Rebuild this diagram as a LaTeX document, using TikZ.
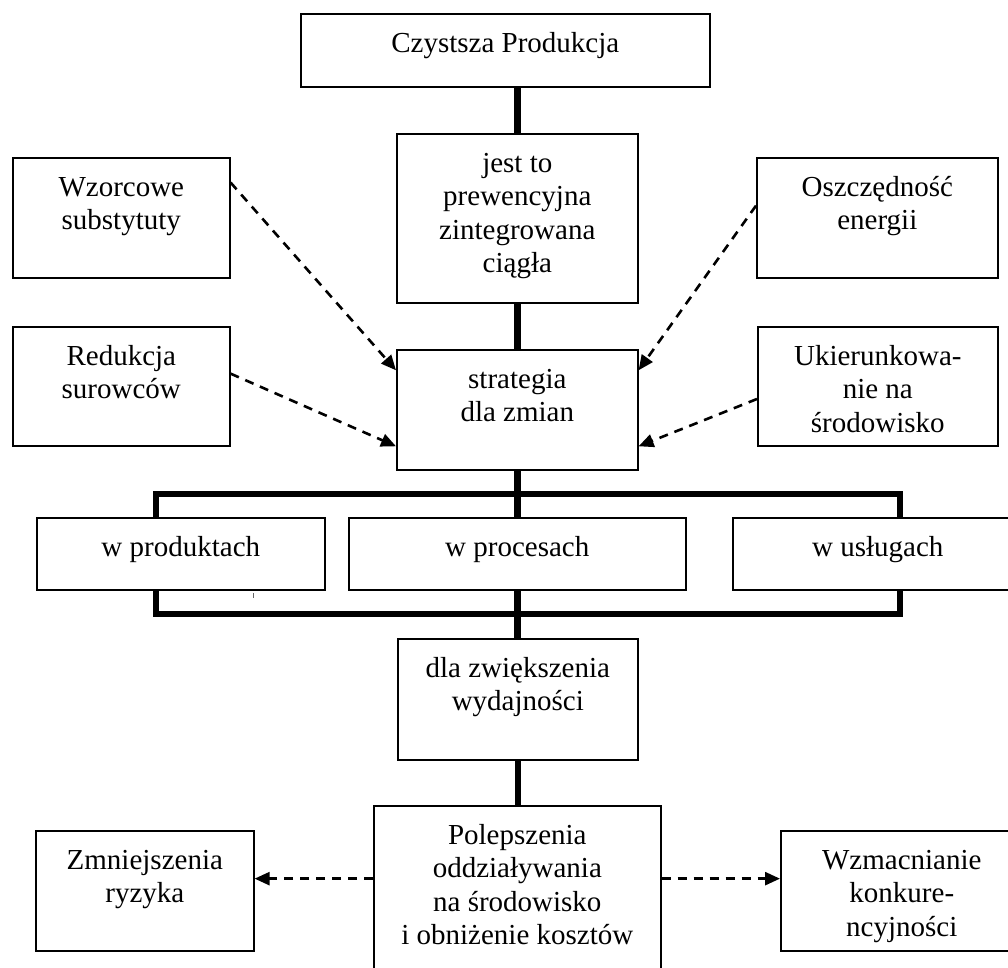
\documentclass[tikz,border=0pt]{standalone}
\usepackage{fontspec}
\setmainfont{Liberation Serif}
\usetikzlibrary{arrows.meta,calc,backgrounds}
\newcommand{\bxt}[3]{\parbox[t][#2][t]{#1}{\centering\rule{0pt}{38.5pt}#3}}
\begin{document}
\begin{tikzpicture}[x=1pt,y=-1pt,
  bx/.style={draw, line width=1.6pt, fill=white, inner sep=0pt, anchor=north west,
             font=\fontsize{29pt}{33.5pt}\selectfont},
  thk/.style={line width=6.5pt, line join=miter, line cap=butt},
  da/.style={line width=2.6pt, dash pattern=on 9pt off 7pt,
             -{Triangle[length=15pt,width=13pt]}}]
\useasboundingbox (0,0) rectangle (1008,967);
\node[bx] (top) at (300,13) {\bxt{409pt}{73pt}{Czystsza Produkcja}};
\node[bx] (jest) at (396,133) {\bxt{241pt}{169pt}{jest to\\prewencyjna\\zintegrowana\\ciągła}};
\node[bx] (wzor) at (12,157) {\bxt{217pt}{120pt}{Wzorcowe\\substytuty}};
\node[bx] (oszcz) at (756,157) {\bxt{241pt}{120pt}{Oszczędność\\energii}};
\node[bx] (red) at (12,326) {\bxt{217pt}{119pt}{Redukcja\\surowców}};
\node[bx] (ukier) at (757,326) {\bxt{240pt}{119pt}{Ukierunkowa-\\nie na\\środowisko}};
\node[bx] (strat) at (396,349) {\bxt{241pt}{120pt}{strategia\\dla zmian}};
\node[bx] (prod) at (36,517) {\bxt{288pt}{72pt}{w produktach}};
\node[bx] (proc) at (348,517) {\bxt{337pt}{72pt}{w procesach}};
\node[bx] (usl) at (732,517) {\bxt{290pt}{72pt}{w usługach}};
\node[bx] (dla) at (397,638) {\bxt{240pt}{121pt}{dla zwiększenia\\wydajności}};
\node[bx] (pol) at (373,805) {\bxt{287pt}{200pt}{Polepszenia\\oddziaływania\\na środowisko\\i obniżenie kosztów}};
\node[bx] (zmn) at (35,830) {\bxt{218pt}{120pt}{Zmniejszenia\\ryzyka}};
\node[bx] (wzm) at (780,830) {\bxt{242pt}{120pt}{Wzmacnianie\\konkure-\\ncyjności}};
\begin{scope}[on background layer]
  \draw[thk] (jest.north) -- (jest.north |- top.south);
  \draw[thk] (jest.south) -- (strat.north);
  \draw[thk] (strat.south) -- (strat.south |- dla.north);
  \draw[thk] (dla.south) -- (dla.south |- pol.north);
  \coordinate (bktl) at (156,494);
  \coordinate (bkbr) at (900,614);
  \draw[thk] (bktl) rectangle (bkbr);
\end{scope}
\draw[da] ($(wzor.north east)!0.21!(wzor.south east)$) -- ($(strat.north west)!0.175!(strat.south west)$);
\draw[da] ($(red.north east)!0.395!(red.south east)$) -- ($(strat.north west)!0.8!(strat.south west)$);
\draw[da] ($(oszcz.north west)!0.4!(oszcz.south west)$) -- ($(strat.north east)!0.175!(strat.south east)$);
\draw[da] ($(ukier.north west)!0.605!(ukier.south west)$) -- ($(strat.north east)!0.8!(strat.south east)$);
\coordinate (zl) at ($(zmn.north east)!0.4!(zmn.south east)$);
\coordinate (wl) at ($(wzm.north west)!0.4!(wzm.south west)$);
\draw[da] (pol.west |- zl) -- (zl);
\draw[da] (pol.east |- wl) -- (wl);
\draw[line width=0.8pt, black!60] (253,593) -- (253,598);
\end{tikzpicture}
\end{document}
